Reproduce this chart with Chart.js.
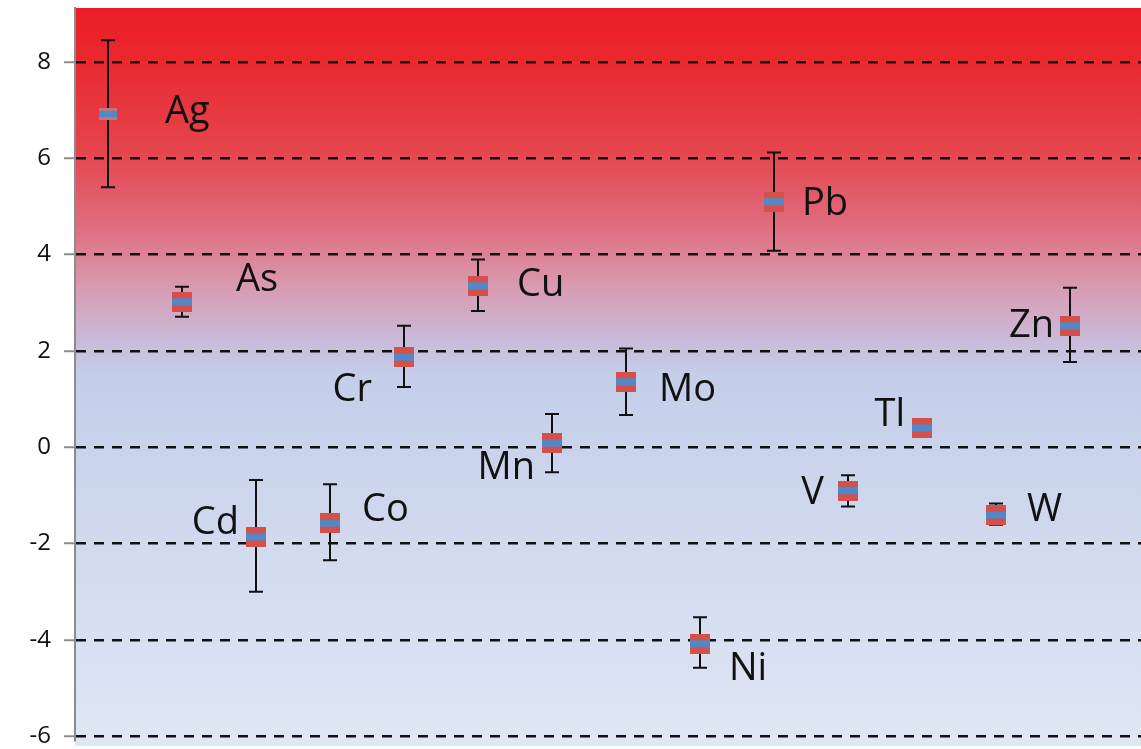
<!DOCTYPE html>
<html>
<head>
<meta charset="utf-8">
<script src="https://cdn.jsdelivr.net/npm/chart.js@4.4.0/dist/chart.umd.min.js"></script>
<style>
  html, body { margin: 0; padding: 0; background: #fff; }
  #wrap { width: 1141px; height: 749px; }
</style>
</head>
<body>
<div id="wrap"><canvas id="chart" width="1141" height="749"></canvas></div>
<script>
// element order along the x axis
const elements = ['Ag', 'As', 'Cd', 'Co', 'Cr', 'Cu', 'Mn', 'Mo', 'Ni', 'Pb', 'V', 'Tl', 'W', 'Zn'];
// central values
const means = [6.92, 3.02, -1.86, -1.58, 1.87, 3.35, 0.08, 1.36, -4.08, 5.10, -0.90, 0.40, -1.41, 2.52];
// error bar ends
const upper = [8.45, 3.33, -0.68, -0.77, 2.52, 3.90, 0.69, 2.05, -3.53, 6.12, -0.58, 0.40, -1.17, 3.31];
const lower = [5.40, 2.71, -3.00, -2.35, 1.25, 2.83, -0.52, 0.67, -4.58, 4.08, -1.23, 0.40, -1.61, 1.77];
const yTicks = [-6, -4, -2, 0, 2, 4, 6, 8];

// where each label sits relative to its marker
const labelPlace = {
    Ag: [57, -2, 'left'], As: [54, -22, 'left'], Cd: [-17, -14, 'right'], Co: [32, -13, 'left'],
    Cr: [-32, 33, 'right'], Cu: [39, -1, 'left'], Mn: [-17, 25, 'right'], Mo: [33, 8, 'left'],
    Ni: [29, 25, 'left'], Pb: [28, 3, 'left'], V: [-24, 3, 'right'], Tl: [-17, -13, 'right'],
    W: [31, -5, 'left'], Zn: [-16, 0, 'right']
};

function makeMarker(w, h, box, band, bandH) {
    const c = document.createElement('canvas');
    c.width = w; c.height = h;
    const g = c.getContext('2d');
    g.fillStyle = box;
    g.fillRect(0, 0, w, h);
    g.fillStyle = band;
    g.fillRect(0, (h - bandH) / 2, w, bandH);
    return c;
}
const boxMarker = makeMarker(20, 20, '#d5504a', '#4f89c9', 7);
const agMarker = makeMarker(18, 12, '#b9777f', '#4f89c9', 6);

const bgPlugin = {
    id: 'plotBg',
    beforeDraw(chart) {
        const { ctx, chartArea: a } = chart;
        const grad = ctx.createLinearGradient(0, a.top, 0, a.bottom);
        grad.addColorStop(0.00, '#ec1c24');
        grad.addColorStop(0.08, '#ea2a31');
        grad.addColorStop(0.20, '#e5464f');
        grad.addColorStop(0.30, '#df6e80');
        grad.addColorStop(0.385, '#d89db3');
        grad.addColorStop(0.45, '#cab9d8');
        grad.addColorStop(0.50, '#c4cee9');
        grad.addColorStop(1.00, '#dfe7f4');
        ctx.save();
        ctx.fillStyle = grad;
        ctx.fillRect(a.left, a.top, a.right - a.left, a.bottom - a.top + 6);
        ctx.restore();
    }
};

const errorBarPlugin = {
    id: 'errorBars',
    beforeDatasetsDraw(chart) {
        const { ctx, scales: { x, y } } = chart;
        ctx.save();
        ctx.strokeStyle = '#111';
        ctx.lineWidth = 2;
        elements.forEach((el, i) => {
            if (upper[i] === lower[i]) return;
            const px = Math.round(x.getPixelForValue(i + 1));
            const top = y.getPixelForValue(upper[i]);
            const bot = y.getPixelForValue(lower[i]);
            ctx.beginPath();
            ctx.moveTo(px, top); ctx.lineTo(px, bot);
            ctx.moveTo(px - 7, top); ctx.lineTo(px + 7, top);
            ctx.moveTo(px - 7, bot); ctx.lineTo(px + 7, bot);
            ctx.stroke();
        });
        ctx.restore();
    }
};

const labelPlugin = {
    id: 'pointLabels',
    afterDatasetsDraw(chart) {
        const { ctx, scales: { x, y } } = chart;
        ctx.save();
        ctx.font = '38px "Open Sans", sans-serif';
        ctx.fillStyle = '#111';
        ctx.textBaseline = 'middle';
        elements.forEach((el, i) => {
            const [dx, dy, align] = labelPlace[el];
            ctx.textAlign = align;
            ctx.fillText(el, x.getPixelForValue(i + 1) + dx, y.getPixelForValue(means[i]) + dy);
        });
        ctx.restore();
    }
};

new Chart(document.getElementById('chart'), {
    type: 'scatter',
    data: {
        datasets: [{
            data: means.map((v, i) => ({ x: i + 1, y: v })),
            pointStyle: elements.map(el => el === 'Ag' ? agMarker : boxMarker),
            pointRadius: 10,
            clip: false
        }]
    },
    options: {
        responsive: false,
        animation: false,
        layout: { autoPadding: false, padding: { top: 8, bottom: 9, left: 0, right: 0 } },
        plugins: { legend: { display: false }, tooltip: { enabled: false } },
        scales: {
            x: { type: 'linear', display: false, min: 0.554, max: 14.96 },
            y: {
                min: -6.08,
                max: 9.12,
                afterBuildTicks: s => { s.ticks = yTicks.map(v => ({ value: v })); },
                afterFit: s => { s.width = 75; s.paddingTop = 0; s.paddingBottom = 0; },
                border: { display: true, color: '#8c8c8c', width: 2, dash: [10, 8] },
                grid: {
                    color: '#111',
                    lineWidth: 2.5,
                    tickLength: 11,
                    tickColor: '#8c8c8c',
                    tickWidth: 2,
                    tickBorderDash: []
                },
                ticks: {
                    padding: 13,
                    color: '#111',
                    font: { family: '"Open Sans", sans-serif', size: 24 }
                }
            }
        }
    },
    plugins: [bgPlugin, errorBarPlugin, labelPlugin]
});
</script>
</body>
</html>
